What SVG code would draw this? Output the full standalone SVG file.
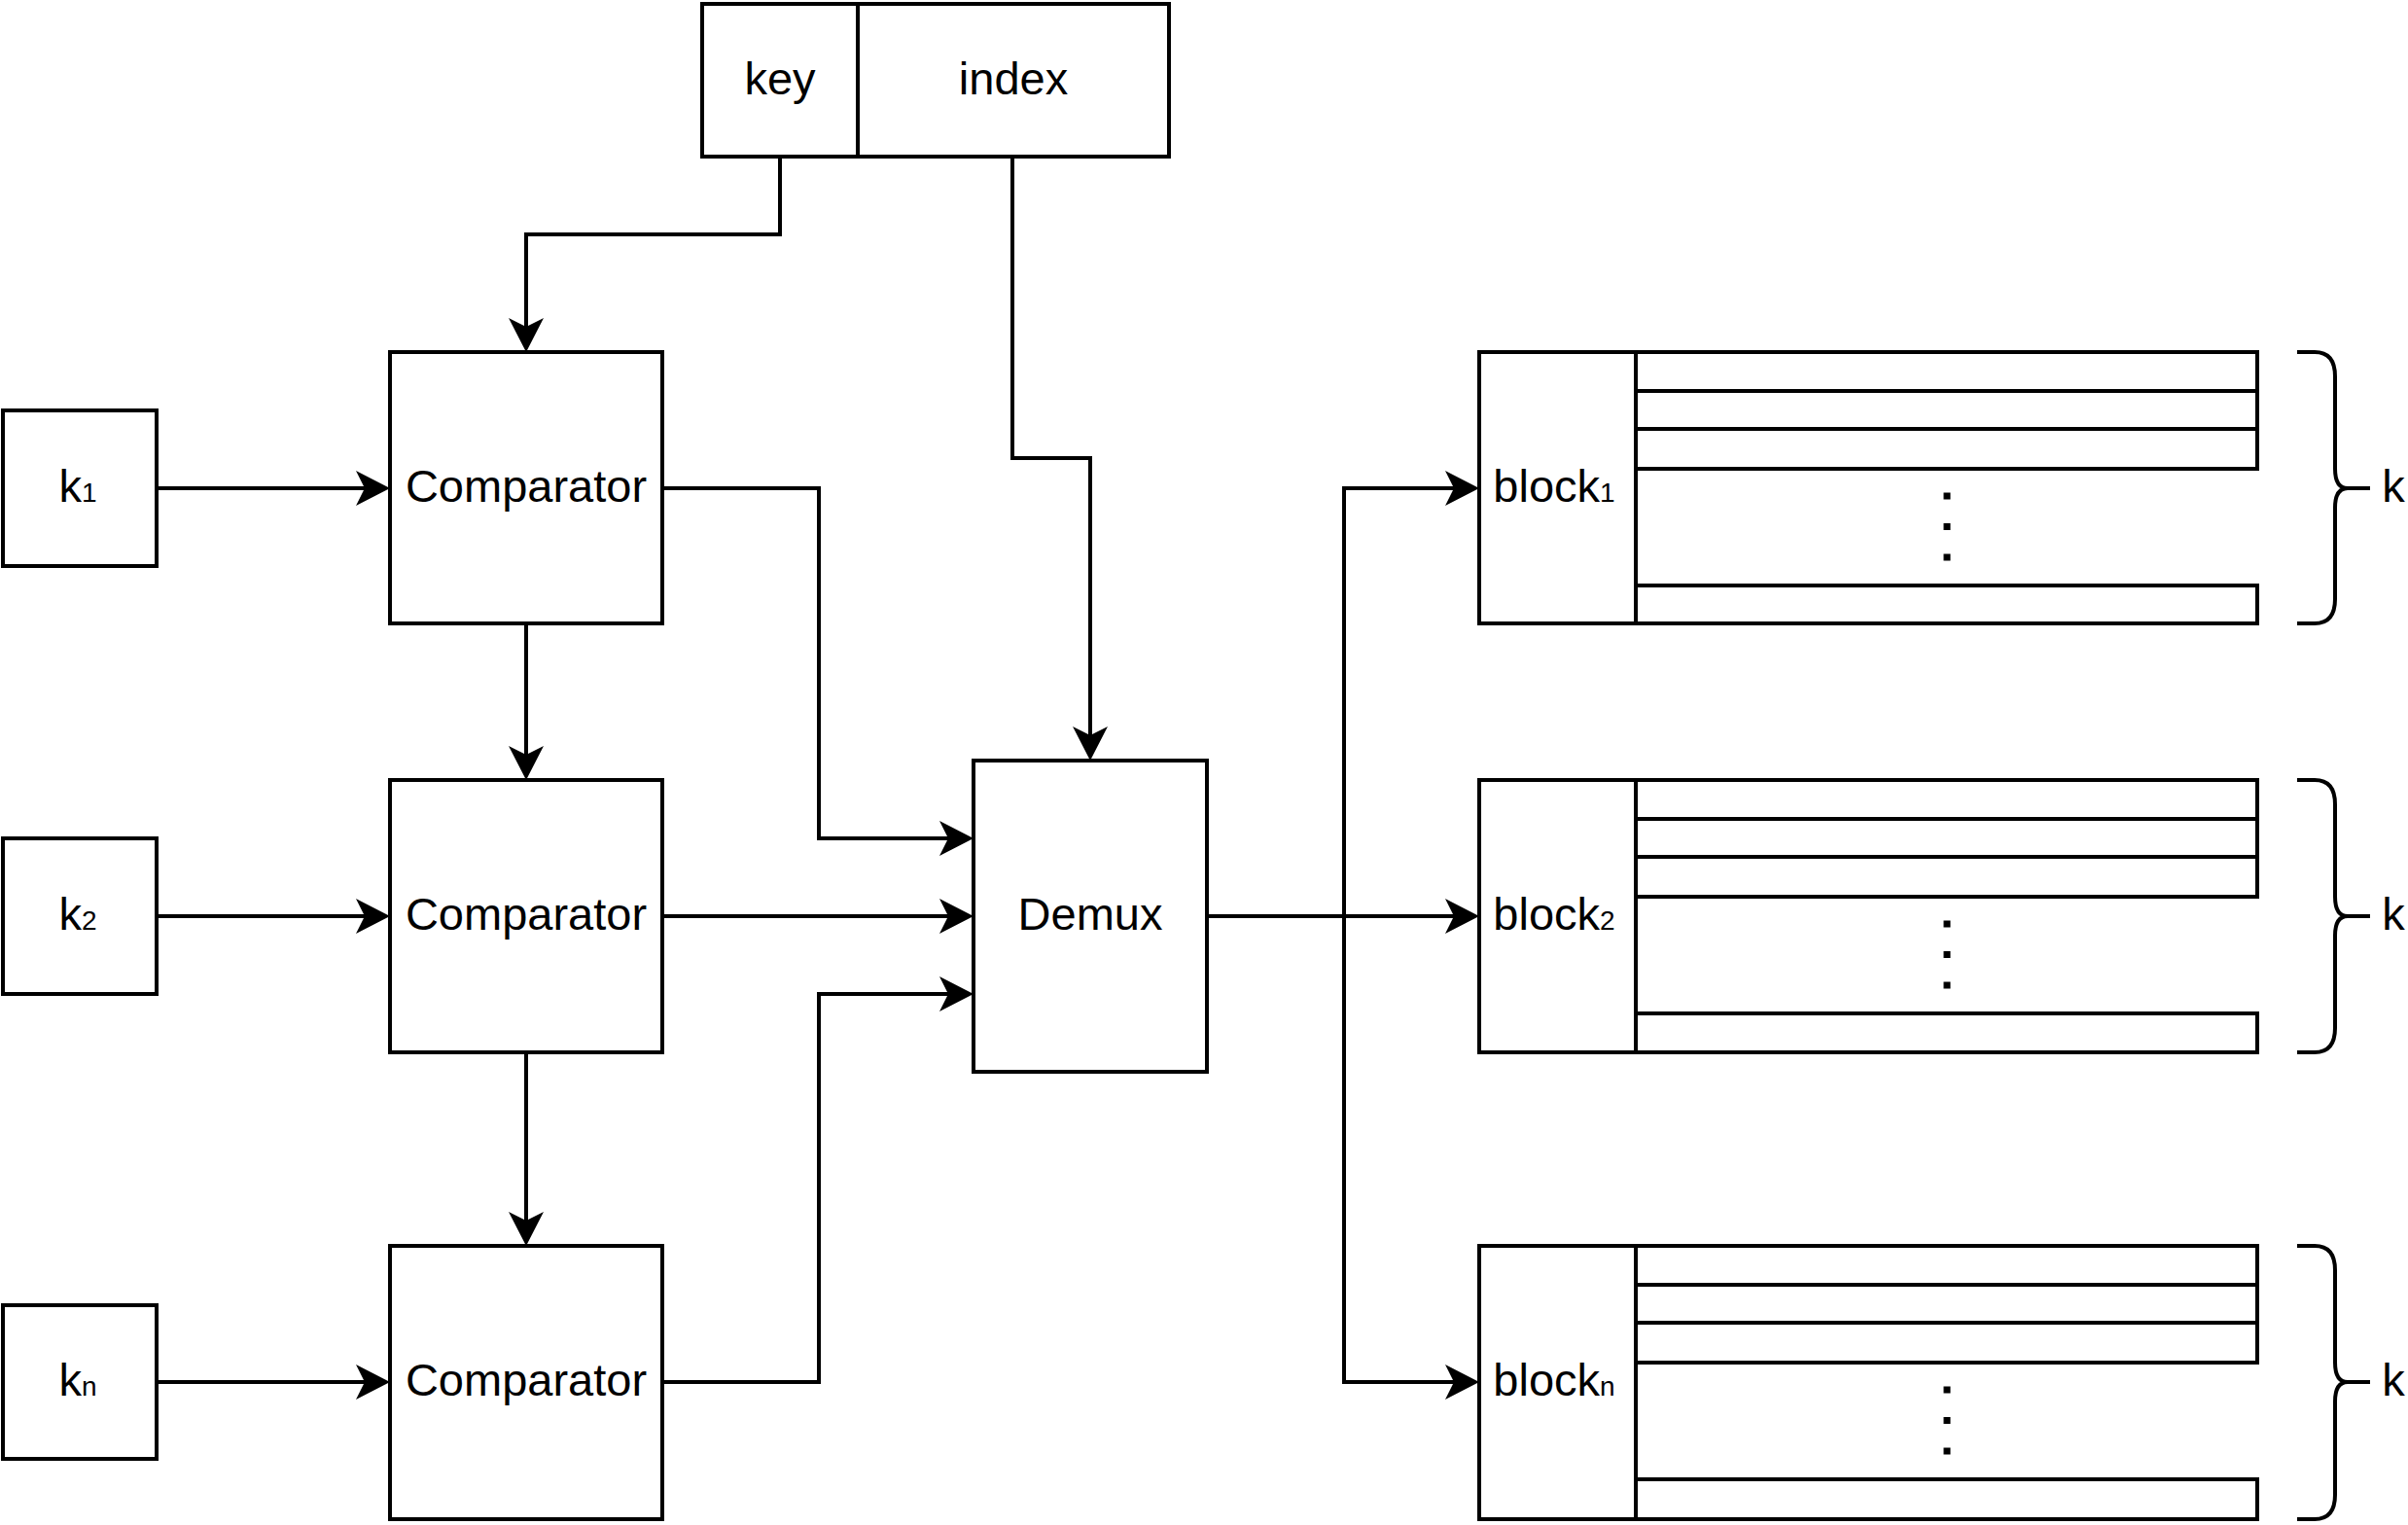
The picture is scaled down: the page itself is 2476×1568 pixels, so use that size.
<svg xmlns="http://www.w3.org/2000/svg" width="2476" height="1568" viewBox="0 0 2476 1568">
<style>
.box{fill:#fff;stroke:#000;stroke-width:4}
.ln{fill:none;stroke:#000;stroke-width:4}
.t{font-family:"Liberation Sans",Arial,sans-serif;font-size:47px;fill:#000;text-anchor:middle}
.s{font-size:28px}
.dots{stroke:#000;stroke-width:7;stroke-dasharray:7 24.5}
</style>
<defs>
<marker id="arr" markerUnits="userSpaceOnUse" viewBox="-10 -19 38 38" markerWidth="38" markerHeight="38" refX="0" refY="0" orient="auto">
<path d="M26,0 L-9,-18 L0,0 L-9,18 Z" fill="#000"/>
</marker>
</defs>
<rect width="2476" height="1568" fill="#fff"/>
<g id="connectors">
<path class="ln" marker-end="url(#arr)" d="M802,161 V241 H541 V336"/>
<path class="ln" marker-end="url(#arr)" d="M1041,161 V471 H1121 V756"/>
<path class="ln" marker-end="url(#arr)" d="M161,502 H375"/>
<path class="ln" marker-end="url(#arr)" d="M161,942 H375"/>
<path class="ln" marker-end="url(#arr)" d="M161,1421 H375"/>
<path class="ln" marker-end="url(#arr)" d="M541,641 V776"/>
<path class="ln" marker-end="url(#arr)" d="M541,1082 V1255"/>
<path class="ln" marker-end="url(#arr)" d="M681,502 H842 V862 H975"/>
<path class="ln" marker-end="url(#arr)" d="M681,942 H975"/>
<path class="ln" marker-end="url(#arr)" d="M681,1421 H842 V1022 H975"/>
<path class="ln" marker-end="url(#arr)" d="M1241,942 H1382 V502 H1495"/>
<path class="ln" marker-end="url(#arr)" d="M1241,942 H1495"/>
<path class="ln" marker-end="url(#arr)" d="M1241,942 H1382 V1421 H1495"/>
</g>
<g id="keyindex">
<rect class="box" x="722" y="4" width="160" height="157"/>
<text class="t" x="802" y="97">key</text>
</g>
<g id="index">
<rect class="box" x="882" y="4" width="320" height="157"/>
<text class="t" x="1042" y="97">index</text>
</g>
<g id="k1">
<rect class="box" x="3" y="422" width="158" height="160"/>
<text class="t" x="80" y="516">k<tspan class="s">1</tspan></text>
</g>
<g id="k2">
<rect class="box" x="3" y="862" width="158" height="160"/>
<text class="t" x="80" y="956">k<tspan class="s">2</tspan></text>
</g>
<g id="kn">
<rect class="box" x="3" y="1342" width="158" height="158"/>
<text class="t" x="80" y="1435">k<tspan class="s">n</tspan></text>
</g>
<g id="comp1">
<rect class="box" x="401" y="362" width="280" height="279"/>
<text class="t" x="541" y="516">Comparator</text>
</g>
<g id="comp2">
<rect class="box" x="401" y="802" width="280" height="280"/>
<text class="t" x="541" y="956">Comparator</text>
</g>
<g id="comp3">
<rect class="box" x="401" y="1281" width="280" height="281"/>
<text class="t" x="541" y="1435">Comparator</text>
</g>
<g id="demux">
<rect class="box" x="1001" y="782" width="240" height="320"/>
<text class="t" x="1121" y="956">Demux</text>
</g>
<g id="block1">
<rect class="box" x="1521" y="362" width="161" height="279"/>
<text class="t" x="1598" y="516">block<tspan class="s">1</tspan></text>
<rect class="box" x="1682" y="362" width="639" height="40"/>
<rect class="box" x="1682" y="402" width="639" height="39"/>
<rect class="box" x="1682" y="441" width="639" height="41"/>
<rect class="box" x="1682" y="602" width="639" height="39"/>
<line class="dots" x1="2002" y1="506.5" x2="2002" y2="577"/>
<path class="ln" d="M2362,362 H2380 Q2401,362 2401,387 V482 Q2401,502 2414,502 H2437 M2414,502 Q2401,502 2401,522 V616 Q2401,641 2380,641 H2362"/>
<text class="t" x="2461" y="516">k</text>
</g>
<g id="block2">
<rect class="box" x="1521" y="802" width="161" height="280"/>
<text class="t" x="1598" y="956">block<tspan class="s">2</tspan></text>
<rect class="box" x="1682" y="802" width="639" height="40"/>
<rect class="box" x="1682" y="842" width="639" height="39"/>
<rect class="box" x="1682" y="881" width="639" height="41"/>
<rect class="box" x="1682" y="1042" width="639" height="40"/>
<line class="dots" x1="2002" y1="946.5" x2="2002" y2="1017"/>
<path class="ln" d="M2362,802 H2380 Q2401,802 2401,827 V922 Q2401,942 2414,942 H2437 M2414,942 Q2401,942 2401,962 V1057 Q2401,1082 2380,1082 H2362"/>
<text class="t" x="2461" y="956">k</text>
</g>
<g id="blockn">
<rect class="box" x="1521" y="1281" width="161" height="281"/>
<text class="t" x="1598" y="1435">block<tspan class="s">n</tspan></text>
<rect class="box" x="1682" y="1281" width="639" height="40"/>
<rect class="box" x="1682" y="1321" width="639" height="39"/>
<rect class="box" x="1682" y="1360" width="639" height="41"/>
<rect class="box" x="1682" y="1521" width="639" height="41"/>
<line class="dots" x1="2002" y1="1425.5" x2="2002" y2="1496"/>
<path class="ln" d="M2362,1281 H2380 Q2401,1281 2401,1306 V1401 Q2401,1421 2414,1421 H2437 M2414,1421 Q2401,1421 2401,1441 V1537 Q2401,1562 2380,1562 H2362"/>
<text class="t" x="2461" y="1435">k</text>
</g>
</svg>
